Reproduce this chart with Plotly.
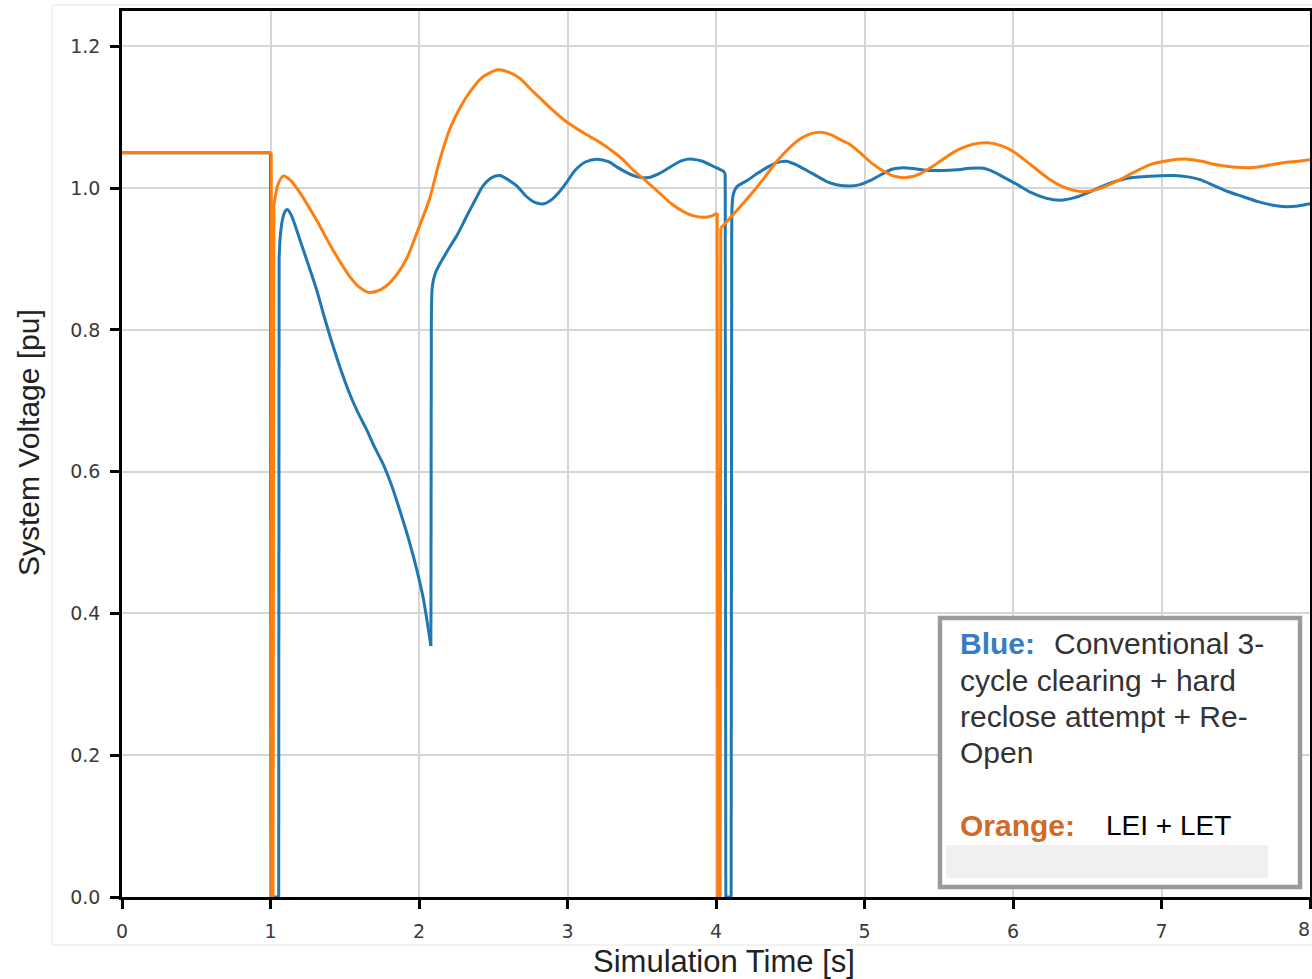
import plotly.graph_objects as go

# ---- data ----
t_blue = [0, 1.0, 1.003, 1.055, 1.058, 1.065, 1.08, 1.10, 1.113, 1.14, 1.20, 1.25, 1.31, 1.36, 1.42,
          1.48, 1.535, 1.59, 1.648, 1.70, 1.76, 1.82, 1.87, 1.93, 1.985, 2.03, 2.08, 2.083, 2.09,
          2.11, 2.14, 2.21, 2.26, 2.32, 2.38, 2.43, 2.49, 2.545, 2.60, 2.66, 2.72, 2.78, 2.84, 2.90,
          2.95, 2.99, 3.05, 3.12, 3.20, 3.28, 3.34, 3.40, 3.47, 3.545, 3.62, 3.70, 3.77, 3.84, 3.91,
          3.98, 4.05, 4.062, 4.066, 4.102, 4.106, 4.115, 4.14, 4.21, 4.28, 4.35, 4.41, 4.475, 4.55,
          4.62, 4.68, 4.75, 4.81, 4.90, 4.97, 5.04, 5.12, 5.19, 5.26, 5.35, 5.44, 5.53, 5.62, 5.71,
          5.80, 5.88, 5.95, 6.03, 6.12, 6.22, 6.32, 6.42, 6.52, 6.64, 6.77, 6.92, 7.08, 7.18, 7.26,
          7.35, 7.45, 7.55, 7.65, 7.75, 7.84, 7.92, 8.0]
v_blue = [1.05, 1.05, 0.0, 0.0, 0.90, 0.93, 0.955, 0.968, 0.970, 0.962, 0.926, 0.895, 0.857, 0.820, 0.778,
          0.740, 0.709, 0.683, 0.659, 0.635, 0.610, 0.578, 0.546, 0.505, 0.462, 0.420, 0.354, 0.80, 0.862,
          0.880, 0.893, 0.918, 0.935, 0.960, 0.984, 1.003, 1.015, 1.018, 1.012, 1.003, 0.989, 0.980, 0.978, 0.985,
          0.996, 1.007, 1.025, 1.037, 1.041, 1.037, 1.029, 1.022, 1.016, 1.015, 1.021, 1.031, 1.039, 1.041, 1.038,
          1.031, 1.024, 1.020, 0.0, 0.0, 0.96, 0.99, 1.002, 1.011, 1.021, 1.030, 1.036, 1.038, 1.032,
          1.024, 1.017, 1.009, 1.005, 1.003, 1.005, 1.011, 1.020, 1.027, 1.029, 1.027, 1.025, 1.025, 1.026, 1.028,
          1.028, 1.022, 1.014, 1.005, 0.994, 0.986, 0.983, 0.987, 0.995, 1.006, 1.014, 1.017, 1.018, 1.016, 1.012,
          1.004, 0.995, 0.988, 0.981, 0.976, 0.974, 0.975, 0.978]

t_orange = [0, 1.005, 1.008, 1.017, 1.022, 1.05, 1.086, 1.14, 1.20, 1.31, 1.42, 1.535, 1.60, 1.66, 1.72,
            1.78, 1.85, 1.92, 2.0, 2.07, 2.14, 2.21, 2.28, 2.35, 2.43, 2.53, 2.60, 2.68, 2.75, 2.81,
            2.90, 2.99, 3.07, 3.15, 3.23, 3.31, 3.38, 3.44, 3.53, 3.62, 3.70, 3.78, 3.85, 3.91, 3.96,
            4.008, 4.012, 4.028, 4.032, 4.07, 4.12, 4.18, 4.25, 4.33, 4.41, 4.49, 4.57, 4.64, 4.71,
            4.78, 4.85, 4.90, 4.97, 5.05, 5.13, 5.20, 5.28, 5.37, 5.46, 5.55, 5.64, 5.73, 5.83, 5.92,
            6.0, 6.12, 6.25, 6.36, 6.47, 6.58, 6.70, 6.81, 6.92, 7.05, 7.17, 7.27, 7.37, 7.48, 7.60,
            7.71, 7.82, 7.92, 8.0]
v_orange = [1.05, 1.05, 0.0, 0.0, 0.975, 1.005, 1.017, 1.010, 0.993, 0.955, 0.913, 0.875, 0.860, 0.853, 0.855,
            0.862, 0.878, 0.902, 0.945, 0.984, 1.040, 1.085, 1.115, 1.138, 1.157, 1.167, 1.164, 1.155, 1.140, 1.128,
            1.110, 1.094, 1.083, 1.073, 1.063, 1.051, 1.039, 1.026, 1.010, 0.993, 0.978, 0.967, 0.961, 0.959, 0.960,
            0.965, 0.0, 0.0, 0.944, 0.952, 0.964, 0.978, 0.995, 1.016, 1.038, 1.056, 1.070, 1.077, 1.079,
            1.075, 1.067, 1.062, 1.050, 1.035, 1.024, 1.017, 1.015, 1.020, 1.031, 1.044, 1.055, 1.062, 1.064, 1.060,
            1.052, 1.033, 1.012, 1.000, 0.995, 0.999, 1.010, 1.022, 1.033, 1.039, 1.041, 1.038, 1.033, 1.030, 1.029,
            1.032, 1.036, 1.038, 1.040]

x_ticks = [0, 1, 2, 3, 4, 5, 6, 7, 8]
y_ticks = [0.0, 0.2, 0.4, 0.6, 0.8, 1.0, 1.2]

x_title = "Simulation Time [s]"
y_title = "System Voltage [pu]"

BLUE = "#1f77b4"
ORANGE = "#ff7f0e"


def split_series(t, v, jump=0.3):
    """Smooth pieces (separated by None) and the steep jump segments between them."""
    sx, sy, jx, jy = [t[0]], [v[0]], [], []
    for i in range(1, len(t)):
        if abs(v[i] - v[i - 1]) > jump:
            sx.append(None); sy.append(None)
            jx += [t[i - 1], t[i], None]; jy += [v[i - 1], v[i], None]
        sx.append(t[i]); sy.append(v[i])
    return sx, sy, jx, jy


fig = go.Figure()
for t, v, c in [(t_blue, v_blue, BLUE), (t_orange, v_orange, ORANGE)]:
    sx, sy, jx, jy = split_series(t, v)
    fig.add_trace(go.Scatter(x=sx, y=sy, mode="lines", connectgaps=False,
                             line=dict(color=c, width=3, shape="spline", smoothing=0.7), showlegend=False))
    fig.add_trace(go.Scatter(x=jx, y=jy, mode="lines", connectgaps=False,
                             line=dict(color=c, width=3), showlegend=False))

W, H = 1312, 979
L, R, T, B = 122, 2, 11, 82

tickfont = dict(family="DejaVu Sans", size=19, color="#3a3a3a")
axis_common = dict(showgrid=True, gridcolor="#d6d6d6", gridwidth=1.5,
                   showline=True, linecolor="black", linewidth=2.5, mirror=True,
                   ticks="outside", ticklen=9, tickwidth=2.5, tickcolor="black",
                   tickfont=tickfont, zeroline=False, automargin=False)
fig.update_layout(
    width=W, height=H,
    margin=dict(l=L, r=R, t=T, b=B, pad=0, autoexpand=False),
    paper_bgcolor="white", plot_bgcolor="white",
    xaxis=dict(range=[0, 8], tickvals=x_ticks, ticktext=[str(v) for v in x_ticks],
               ticklabelstandoff=6, **axis_common),
    yaxis=dict(range=[0, 1.25], tickvals=y_ticks, ticktext=[f"{v:.1f}" for v in y_ticks],
               ticklabelstandoff=6, **axis_common),
)

pw = W - L - R
ph = H - T - B


def px(x):
    return (x - L) / pw


def py(y):
    return (H - B - y) / ph


shapes = [
    # faint outer frame of the original figure
    dict(type="rect", xref="paper", yref="paper", x0=px(52), x1=px(1320), y0=py(945), y1=py(5),
         line=dict(color="#e6e6e6", width=1), fillcolor="rgba(0,0,0,0)", layer="below"),
    # note box
    dict(type="rect", xref="paper", yref="paper", x0=px(940), x1=px(1300), y0=py(887), y1=py(618),
         line=dict(color="#9a9a9a", width=4.5), fillcolor="white", layer="above"),
    dict(type="rect", xref="paper", yref="paper", x0=px(946), x1=px(1268), y0=py(878), y1=py(845),
         line=dict(width=0), fillcolor="#f0f0f0", layer="above"),
]
fig.update_layout(shapes=shapes)

# last x tick label sits on the figure edge
fig.add_annotation(text=str(x_ticks[-1]), xref="paper", yref="paper", x=px(1312), y=py(929),
                   xanchor="right", yanchor="middle", showarrow=False, font=tickfont)

note_font = dict(family="Liberation Sans", size=30, color="#333333")
anns = [
    dict(text="<b>Blue:</b>", x=px(958), y=py(643), font=dict(family="Liberation Sans", size=30, color="#3a7cc3")),
    dict(text="Conventional 3-", x=px(1052), y=py(643), font=note_font),
    dict(text="cycle clearing + hard", x=px(958), y=py(680), font=note_font),
    dict(text="reclose attempt + Re-", x=px(958), y=py(716), font=note_font),
    dict(text="Open", x=px(958), y=py(752), font=note_font),
    dict(text="<b>Orange:</b>", x=px(958), y=py(825), font=dict(family="Liberation Sans", size=30, color="#cf6a27")),
    dict(text="LEI + LET", x=px(1104), y=py(825), font=dict(family="Liberation Sans", size=28, color="black")),
]
for a in anns:
    fig.add_annotation(xref="paper", yref="paper", xanchor="left", yanchor="middle",
                       showarrow=False, **a)

fig.add_annotation(text=x_title, xref="paper", yref="paper", x=px(724), y=py(961),
                   xanchor="center", yanchor="middle", showarrow=False,
                   font=dict(family="Liberation Sans", size=31, color="#222222"))
fig.add_annotation(text=y_title, xref="paper", yref="paper", x=px(29), y=py(443),
                   xanchor="center", yanchor="middle", showarrow=False, textangle=-90,
                   font=dict(family="Liberation Sans", size=30, color="#222222"))

fig.write_html("out.html")
